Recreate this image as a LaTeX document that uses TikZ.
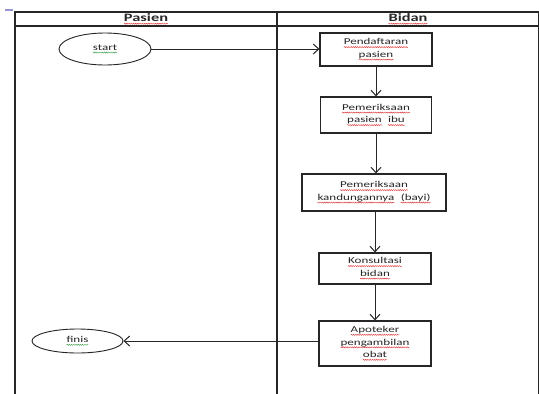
\documentclass[tikz,border=0pt]{standalone}
\usepackage{fontspec}
\setmainfont{Carlito}[FakeStretch=1.45]
\usetikzlibrary{arrows.meta,shapes.geometric,decorations.pathmorphing}

\definecolor{ink}{HTML}{262626}
\definecolor{spellred}{HTML}{E0393A}
\definecolor{spellgreen}{HTML}{3FA34D}

% word with a wavy proofing underline
\newcommand\wavy[2]{\tikz[baseline=(wv.base)]{%
  \node[rectangle,draw=none,fill=none,inner sep=0pt,outer sep=0pt,
        minimum width=0pt,minimum height=0pt] (wv) {#2};
  \draw[#1,line width=0.45pt,decorate,
        decoration={snake,amplitude=0.55pt,segment length=2.2pt}]
    ([yshift=-2.2pt]wv.base west) -- ([yshift=-2.2pt]wv.base east);}}
\newcommand\rw[1]{\wavy{spellred}{#1}}
\newcommand\gw[1]{\wavy{spellgreen}{#1}}

\tikzset{
  lane/.style={draw=ink,line width=1.1pt},
  stepbox/.style={draw=ink,line width=1.1pt,rectangle,inner sep=0pt,
    align=center,text=ink,font=\fontsize{9}{12.5}\selectfont},
  terminal/.style={draw=ink,line width=0.9pt,ellipse,inner sep=0pt,
    text=ink,font=\fontsize{9}{12.5}\selectfont},
  lanehead/.style={text=ink,font=\fontsize{11.3}{13}\selectfont\bfseries},
  flow/.style={draw=ink,line width=1pt,-{Straight Barb[length=5.5pt,width=10pt,line width=1pt]}},
}

\begin{document}
\begin{tikzpicture}[x=1pt,y=-1pt]
\useasboundingbox (0,0) rectangle (539,394);
\fill[white] (0,0) rectangle (539,394);

% small anchor mark
\fill[blue!40!gray!60] (5,8.5) rectangle (13,10.5);

% swimlane frame
\coordinate (tl) at (15,12);
\coordinate (tr) at (538.5,12);
\coordinate (bl) at (15,394);
\coordinate (br) at (538.5,394);
\coordinate (hl) at (15,26);
\coordinate (hr) at (538.5,26);
\coordinate (dt) at (277,12);
\coordinate (db) at (277,394);
\draw[lane] (bl) -- (tl) -- (tr) -- (br);
\draw[lane] (hl) -- (hr);
\draw[lane] (dt) -- (db);

\node[lanehead] (hpasien) at (146,19) {\rw{Pasien}};
\node[lanehead] (hbidan) at (408,19) {\rw{Bidan}};

% terminals
\node[terminal,minimum width=92pt,minimum height=32pt] (start) at (105,49) {\gw{start}};
\node[terminal,minimum width=91pt,minimum height=24pt] (finis) at (77.5,341) {\gw{finis}};

% process steps
\node[stepbox,minimum width=112pt,minimum height=33pt] (b1) at (376,49.5)
  {\rw{Pendaftaran}\\\rw{pasien}};
\node[stepbox,minimum width=111pt,minimum height=36pt] (b2) at (376,115)
  {\rw{Pemeriksaan}\\\rw{pasien}\ \ \rw{ibu}};
\node[stepbox,minimum width=144pt,minimum height=37pt] (b3) at (374,192.5)
  {\rw{Pemeriksaan}\\\rw{kandungannya}\ \ \rw{(bayi)}};
\node[stepbox,minimum width=112pt,minimum height=31pt] (b4) at (375,268.5)
  {\rw{Konsultasi}\\\rw{bidan}};
\node[stepbox,minimum width=112pt,minimum height=45pt] (b5) at (375,343.5)
  {\rw{Apoteker}\\\rw{pengambilan}\\\rw{obat}};

% connectors
\draw[flow] (start.east) -- (start.east -| b1.west);
\draw[flow] (b1.south) -- (b2.north);
\draw[flow] (b2.south) -- (b2.south |- b3.north);
\draw[flow] (b3.south -| b4.north) -- (b4.north);
\draw[flow] (b4.south) -- (b5.north);
\draw[flow] (b5.west |- finis.east) -- (finis.east);
\end{tikzpicture}
\end{document}
